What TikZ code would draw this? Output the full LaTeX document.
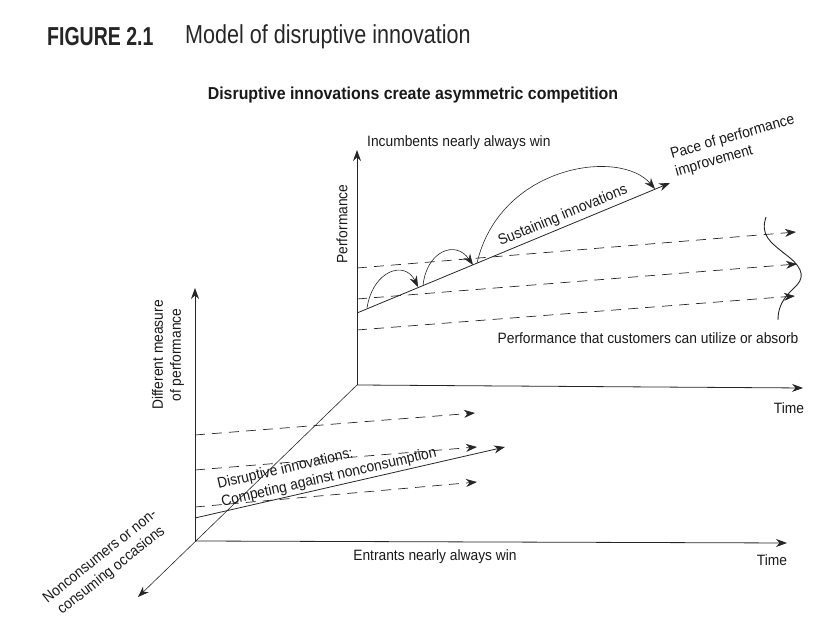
\documentclass[tikz,border=0pt]{standalone}
\usepackage{fontspec}
\setmainfont{Liberation Sans}[FakeStretch=0.92]
\newfontfamily\headBold{Liberation Sans}[FakeStretch=0.75]
\newfontfamily\headText{Liberation Sans}[FakeStretch=0.83]
\usetikzlibrary{arrows.meta}
\tikzset{%
  axisArrow/.style={-{Stealth[length=11pt,width=8pt]}, line width=0.8pt, black!85},
  thinArrow/.style={axisArrow, line width=0.6pt},
  dashArrow/.style={axisArrow, line width=0.7pt, dash pattern=on 10pt off 7pt},
  jumpArrow/.style={axisArrow, line width=0.6pt},
  labelText/.style={inner sep=0pt, font=\fontsize{15}{18}\selectfont, black!90},
  titleBold/.style={inner sep=0pt, font=\headBold\fontsize{26}{30}\selectfont\bfseries, black!85},
  titleText/.style={inner sep=0pt, font=\headText\fontsize{26}{30}\selectfont, black!85},
  subTitle/.style={inner sep=0pt, font=\fontsize{17.3}{20}\selectfont\bfseries, black!90},
}

\begin{document}
\begin{tikzpicture}[x=1pt,y=1pt]
  \useasboundingbox (0,0) rectangle (838,620);
  % headings
  \node[titleBold, anchor=west] (figNum)   at (47,583)  {FIGURE 2.1};
  \node[titleText, anchor=west] (figTitle) at (185,583) {Model of disruptive innovation};
  \node[subTitle] (subTitle) at (413,525) {Disruptive innovations create asymmetric competition};

  % axes
  \coordinate (upCorner)  at (357,235);
  \coordinate (upTop)     at (357,470);
  \coordinate (upTime)    at (803,232);
  \coordinate (lowCorner) at (195,79);
  \coordinate (lowTop)    at (195,332);
  \coordinate (lowTime)   at (787,77);
  \coordinate (nonCons)   at (138,23);
  \draw[axisArrow] (upCorner) -- (upTop);
  \draw[axisArrow] (upCorner) -- (upTime);
  \draw[axisArrow] (lowCorner) -- (lowTop);
  \draw[axisArrow] (lowCorner) -- (lowTime);
  \draw[thinArrow] (upCorner) -- (nonCons);

  % upper plane: customer demand
  \coordinate (dA0) at (357,352); \coordinate (dA1) at (796,388);
  \coordinate (dB0) at (357,321); \coordinate (dB1) at (797,356);
  \coordinate (dC0) at (357,290); \coordinate (dC1) at (795,324);
  \draw[dashArrow] (dA0) -- (dA1);
  \draw[dashArrow] (dB0) -- (dB1);
  \draw[dashArrow] (dC0) -- (dC1);
  \draw[line width=0.9pt, black!85] (766,403) .. controls (760,385) and (770,378) .. (785,366)
    .. controls (800,355) and (806,345) .. (797,335) .. controls (788,326) and (778,318) .. (778,300);

  % upper plane: sustaining trajectory
  \coordinate (susStart) at (357,307);
  \coordinate (susEnd)   at (670,437);
  \draw[axisArrow] (susStart) -- (susEnd);
  \coordinate (j1s) at (367,312); \coordinate (j1e) at (418,333);
  \coordinate (j2s) at (423,334); \coordinate (j2e) at (473,355);
  \coordinate (j3s) at (477,357); \coordinate (j3e) at (655,431);
  \draw[jumpArrow] (j1s) .. controls (373,350) and (405,360) .. (j1e);
  \draw[jumpArrow] (j2s) .. controls (426,368) and (455,381) .. (j2e);
  \draw[jumpArrow] (j3s) .. controls (500,455) and (620,472) .. (j3e);

  % lower plane
  \coordinate (eA0) at (195,185); \coordinate (eA1) at (475,207);
  \coordinate (eB0) at (195,150); \coordinate (eB1) at (477,173);
  \coordinate (eC0) at (195,113); \coordinate (eC1) at (477,138);
  \draw[dashArrow] (eA0) -- (eA1);
  \draw[dashArrow] (eB0) -- (eB1);
  \draw[dashArrow] (eC0) -- (eC1);
  \coordinate (disStart) at (195,102);
  \coordinate (disEnd)   at (505,173);
  \draw[axisArrow] (disStart) -- (disEnd);

  % labels
  \node[labelText, anchor=west] (incumbents) at (367,477) {Incumbents nearly always win};
  \node[labelText, rotate=90] (perfAxis) at (342,396) {Performance};
  \node[labelText, rotate=16, align=left] (pace) at (735,474) {Pace of performance\\improvement};
  \node[labelText, rotate=22.5] (sustaining) at (563,404) {Sustaining innovations};
  \node[labelText] (absorb) at (648,282) {Performance that customers can utilize or absorb};
  \node[labelText] (timeUp) at (789,212) {Time};
  \node[labelText] (timeLow) at (772,60) {Time};
  \node[labelText] (entrants) at (435,63) {Entrants nearly always win};
  \node[labelText, rotate=90, align=center] (diffMeasure) at (168,265) {Different measure\\of performance};
  \node[labelText, rotate=38.5, align=center] (nonConsumers) at (106,56) {Nonconsumers or non-\\consuming occasions};
  \node[labelText, rotate=13, align=left] (disruptive) at (327,151) {Disruptive innovations:\\Competing against nonconsumption};
\end{tikzpicture}
\end{document}
